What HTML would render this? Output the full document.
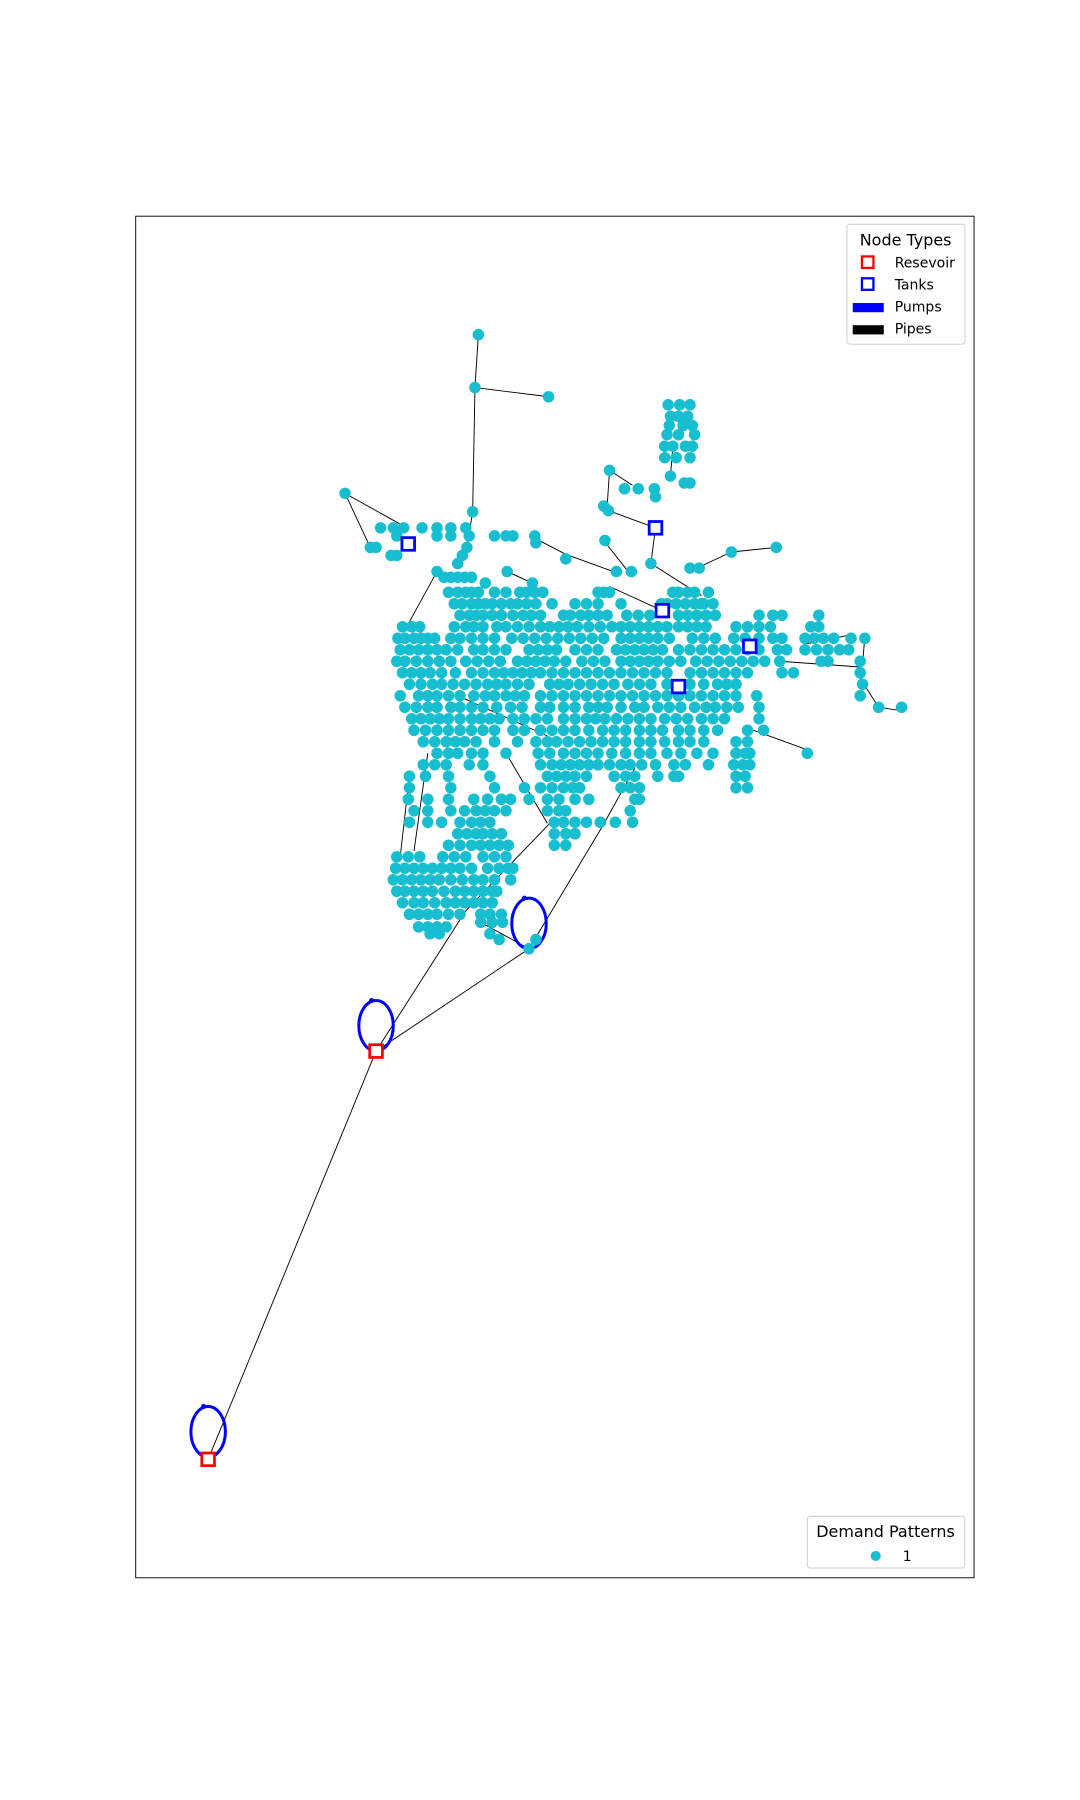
<!DOCTYPE html>
<html><head><meta charset="utf-8"><style>
html,body{margin:0;padding:0;background:#fff;width:1080px;height:1800px;overflow:hidden}
svg{display:block}
text{font-family:"DejaVu Sans","Liberation Sans",sans-serif;fill:#000}
</style></head><body>
<svg id="chart" width="1080" height="1800" viewBox="0 0 939.13 1565.22" xmlns="http://www.w3.org/2000/svg">
<rect x="118" y="188" width="729" height="1184" fill="none" stroke="#000" stroke-width="0.8"/>
<g id="pipes"></g><g id="pumps"></g><g id="nodes"></g><g id="specials"></g>
<g>
<rect x="736.5" y="195" width="102.6" height="104.3" rx="2.5" fill="#fff" stroke="#ccc" stroke-width="0.8"/>
<text x="787.5" y="213.5" font-size="13.9" text-anchor="middle">Node Types</text>
<rect x="749.5" y="223" width="10" height="10" fill="none" stroke="#f00" stroke-width="2"/>
<text x="778" y="232.5" font-size="12.2">Resevoir</text>
<rect x="749.5" y="242" width="10" height="10" fill="none" stroke="#00f" stroke-width="2"/>
<text x="778" y="251.8" font-size="12.2">Tanks</text>
<rect x="741.5" y="263.5" width="27" height="8" fill="#00f"/>
<text x="778" y="271" font-size="12.2">Pumps</text>
<rect x="741.5" y="282.8" width="27" height="8" fill="#000"/>
<text x="778" y="290.2" font-size="12.2">Pipes</text>
</g>
<g>
<rect x="702" y="1318.5" width="137" height="45" rx="2.5" fill="#fff" stroke="#ccc" stroke-width="0.8"/>
<text x="770" y="1336.5" font-size="13.9" text-anchor="middle">Demand Patterns</text>
<circle cx="761.5" cy="1353" r="4.4" fill="#17becf"/>
<text x="785" y="1357.5" font-size="12.2">1</text>
</g>
</svg>
<script>
// node rows: [y, [x...]] (display coords)
const nodeRows = [
[291,[416]],[337,[413]],[345,[477]],
[352,[581,591,600]],[362,[583,590,598]],[370,[582,594,602]],[378,[580,590,604]],[388,[578,585,596,602]],[398,[578,588,600]],[414,[583]],[420,[595,600]],
[409,[530]],[425,[543,555,569]],[432,[570]],[440,[525]],[444,[529]],[429,[300]],[445,[411]],
[459,[331,342,351,367,380,392,405]],[466,[345,380,392,408,430,446,440,465]],[470,[526]],[472,[466]],[476,[322,327,406,675]],[480,[636]],[483,[340,345,402]],[486,[492]],[490,[566,398]],
[494,[600,608]],[497,[441,380,536,549]],[502,[386,392,398,404,410]],[507,[463,422]],
[515,[390,398,405,410,416,430,440,452,458,465,472,520,525,530,585,590,598,604,616]],
[525,[395,402,410,416,422,428,436,444,450,458,466,480,500,510,520,540,575,580,588,596,604,612,620,610]],
[535,[400,408,414,420,428,436,446,455,462,470,490,496,505,512,520,528,545,555,565,590,598,606,614,622,660,672,680,712]],
[545,[350,358,365,395,405,412,420,432,440,450,460,470,478,486,494,502,512,522,532,540,548,556,564,572,580,590,598,606,614,640,650,660,670,705,712]],
[555,[346,352,360,366,372,378,392,400,410,420,430,445,455,465,475,485,495,505,515,525,540,548,556,564,572,582,602,612,622,638,648,660,672,680,700,708,716,725,740,752]],
[565,[348,356,364,372,380,388,398,412,420,430,440,460,468,476,484,500,510,520,536,544,552,560,568,576,590,600,610,620,630,640,650,660,676,684,700,710,720,730,738]],
[575,[345,352,362,372,382,392,405,415,425,435,450,458,466,474,482,492,506,516,526,540,548,556,564,572,582,592,605,615,625,635,645,655,665,678,714,720,748]],
[585,[350,358,366,374,384,396,410,420,430,438,446,454,462,470,480,490,500,510,520,530,540,550,560,570,580,600,610,620,630,640,650,680,690,748]],
[595,[356,366,376,384,394,404,414,424,432,440,450,460,478,486,494,504,514,524,534,546,556,566,580,600,612,624,632,640,750]],
[605,[348,364,372,380,390,400,412,422,430,440,448,456,470,480,490,500,510,520,530,540,550,560,570,580,590,600,610,620,630,640,658,748]],
[615,[352,362,372,380,392,400,410,420,432,444,454,470,478,490,500,512,520,528,540,552,560,572,582,592,604,614,622,632,642,660,764,784]],
[625,[358,366,374,382,390,400,410,418,426,434,446,456,466,476,490,500,510,518,526,536,546,556,566,578,588,598,610,620,630,660]],
[635,[360,370,380,390,400,410,420,430,446,456,470,480,490,500,512,524,534,544,556,566,576,590,600,612,624,650,664]],
[645,[368,378,388,396,404,414,430,450,466,476,484,494,504,514,524,534,544,556,566,578,590,600,612,640,650]],
[655,[380,390,398,410,420,440,468,478,490,500,510,520,532,544,556,566,580,592,606,620,640,648,652,702]],
[665,[368,378,388,408,420,470,480,488,496,504,512,520,530,540,548,558,570,586,596,616,638,646,652]],
[675,[356,370,390,426,476,484,492,500,510,534,544,552,572,586,590,640,648]],
[685,[356,392,430,456,470,480,490,498,504,540,548,556,640,650]],
[695,[355,372,390,412,424,436,444,460,476,486,500,512,552,556]],
[705,[360,372,392,404,414,422,430,440,476,486,492,548]],
[715,[356,372,384,400,410,418,426,482,490,500,510,522,535,550]],
[725,[398,406,414,420,428,436,482,492,500]],
[735,[390,400,410,418,426,434,442,482,492]],
[745,[345,355,365,385,395,405,420,430,440]],
[755,[344,352,360,368,376,384,392,400,410,424,434,442,446]],
[765,[342,350,358,366,374,382,392,402,412,420,430,444]],
[775,[345,352,360,368,376,386,396,404,412,420,428,432]],
[785,[350,360,368,378,388,396,404,412,420,428]],
[795,[356,364,372,380,390,400,418,426,436]],
[802,[418,428,437]],[806,[364,372,380,388]],[812,[374,382,426]],[817,[434,466]],[825,[460]]
];
// pipes: [x1,y1,x2,y2]
const pipes = [
[181,1269,327,914],[327,914,405,792],[405,792,478,716],[327,914,460,825],[460,825,523,720],[523,720,552,668],
[416,291,413,337],[413,337,477,345],[413,337,411,445],[411,445,406,476],
[300,429,322,476],[300,429,352,458],[465,468,492,482],[492,482,536,498],[441,497,463,507],
[530,409,528,440],[530,409,550,422],[529,444,570,459],[570,459,566,490],[566,490,610,518],[525,470,547,498],
[583,414,585,390],[606,494,636,480],[636,480,675,476],[647,632,702,652],[748,590,764,615],[764,615,784,618],
[752,554,750,578],[678,575,748,580],[700,560,740,552],[530,510,576,531],[349,552,380,555],
[380,497,352,548],[356,675,348,745],[372,655,360,740],[440,655,476,716],[418,802,460,825],[396,604,476,640]
];
const tanks = [[355,473],[570,459],[576,531],[652,562],[590,597]];
const reservoirs = [[181,1269],[327,914]];
const pumps = [[181,1245],[327,892],[460,803]];

const NS='http://www.w3.org/2000/svg';
const gP=document.getElementById('pipes'), gN=document.getElementById('nodes'), gS=document.getElementById('specials'), gU=document.getElementById('pumps');
pipes.forEach(p=>{
  const l=document.createElementNS(NS,'line');
  l.setAttribute('x1',p[0]);l.setAttribute('y1',p[1]);l.setAttribute('x2',p[2]);l.setAttribute('y2',p[3]);
  l.setAttribute('stroke','#000');l.setAttribute('stroke-width','0.8');
  
  
  gP.appendChild(l);
});
nodeRows.forEach(r=>{
  r[1].forEach(x=>{
    const c=document.createElementNS(NS,'circle');
    c.setAttribute('cx',x);c.setAttribute('cy',r[0]);c.setAttribute('r','5');c.setAttribute('fill','#17becf');
    
    
    gN.appendChild(c);
  });
});
pumps.forEach(p=>{
  const e=document.createElementNS(NS,'ellipse');
  e.setAttribute('cx',p[0]);e.setAttribute('cy',p[1]);e.setAttribute('rx','15');e.setAttribute('ry','22');
  e.setAttribute('fill','none');e.setAttribute('stroke','#00f');e.setAttribute('stroke-width','2.6');
  
  
  gU.appendChild(e);
  const a=document.createElementNS(NS,'circle');
  a.setAttribute('cx',p[0]-4);a.setAttribute('cy',p[1]-22);a.setAttribute('r','2.2');a.setAttribute('fill','#00f');
  
  
  gU.appendChild(a);
});
function sq(p,col,name){
  const s=document.createElementNS(NS,'rect');
  s.setAttribute('x',p[0]-5.5);s.setAttribute('y',p[1]-5.5);s.setAttribute('width','11');s.setAttribute('height','11');
  s.setAttribute('fill','#fff');s.setAttribute('stroke',col);s.setAttribute('stroke-width','2.4');
  
  
  gS.appendChild(s);
}
tanks.forEach(t=>sq(t,'#00f','tank'));
reservoirs.forEach(t=>sq(t,'#f00','reservoir'));
</script>
</body></html>
